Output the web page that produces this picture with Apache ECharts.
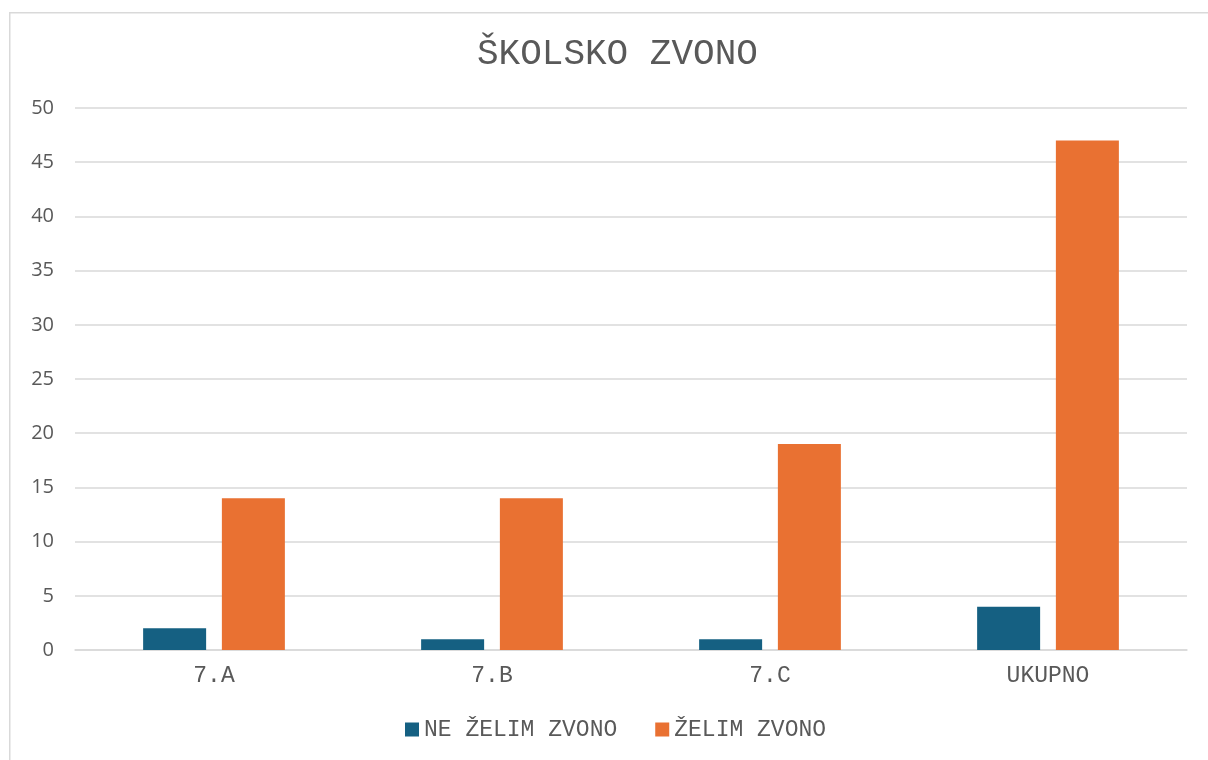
<!DOCTYPE html>
<html>
<head>
<meta charset="utf-8">
<script src="https://cdn.jsdelivr.net/npm/echarts@6/dist/echarts.min.js"></script>
<style>
	html, body { margin: 0; padding: 0; background: #fff; }
	#chart { width: 1208px; height: 760px; }
</style>
</head>
<body>
<div id="chart"></div>
<script>
// podaci
const categories = ["7.A", "7.B", "7.C", "UKUPNO"];
const neZelimZvono = [2, 1, 1, 4];
const zelimZvono = [14, 14, 19, 47];
const seriesNames = ["NE ŽELIM ZVONO", "ŽELIM ZVONO"];

const mono = "'Courier New', 'Liberation Mono', monospace";
const grey = "#595959";

const myChart = echarts.init(document.getElementById("chart"));
const option = {
	animation: false,
	backgroundColor: "#fff",
	graphic: [
		{
			type: "rect",
			left: 9,
			top: 12,
			z: -1,
			shape: { width: 1300, height: 900 },
			style: { fill: "#fff", stroke: "#d9d9d9", lineWidth: 1.5 }
		}
	],
	title: {
		text: "ŠKOLSKO ZVONO",
		left: 472,
		top: 31,
		textStyle: {
			fontFamily: mono,
			fontSize: 36,
			fontWeight: "normal",
			color: grey
		}
	},
	legend: {
		data: seriesNames,
		left: 400,
		top: 713,
		itemWidth: 14,
		itemHeight: 14,
		itemGap: 38,
		icon: "rect",
		textStyle: {
			fontFamily: mono,
			fontSize: 23,
			color: grey
		}
	},
	grid: {
		left: 75,
		right: 21,
		top: 108,
		bottom: 110
	},
	xAxis: {
		type: "category",
		data: categories,
		axisTick: { show: false },
		axisLine: { lineStyle: { color: "#d9d9d9", width: 1.5 } },
		axisLabel: {
			margin: 14,
			fontFamily: mono,
			fontSize: 23,
			color: grey
		}
	},
	yAxis: {
		type: "value",
		min: 0,
		max: 50,
		interval: 5,
		axisLine: { show: false },
		axisTick: { show: false },
		splitLine: { lineStyle: { color: "#d9d9d9", width: 1.5 } },
		axisLabel: {
			margin: 21,
			fontFamily: "Open Sans",
			fontSize: 20,
			color: grey
		}
	},
	series: [
		{
			name: seriesNames[0],
			type: "bar",
			data: neZelimZvono,
			barWidth: 63,
			barGap: "25%",
			itemStyle: { color: "#156082" }
		},
		{
			name: seriesNames[1],
			type: "bar",
			data: zelimZvono,
			barWidth: 63,
			barGap: "25%",
			itemStyle: { color: "#e97132" }
		}
	]
};
myChart.setOption(option);
</script>
</body>
</html>
